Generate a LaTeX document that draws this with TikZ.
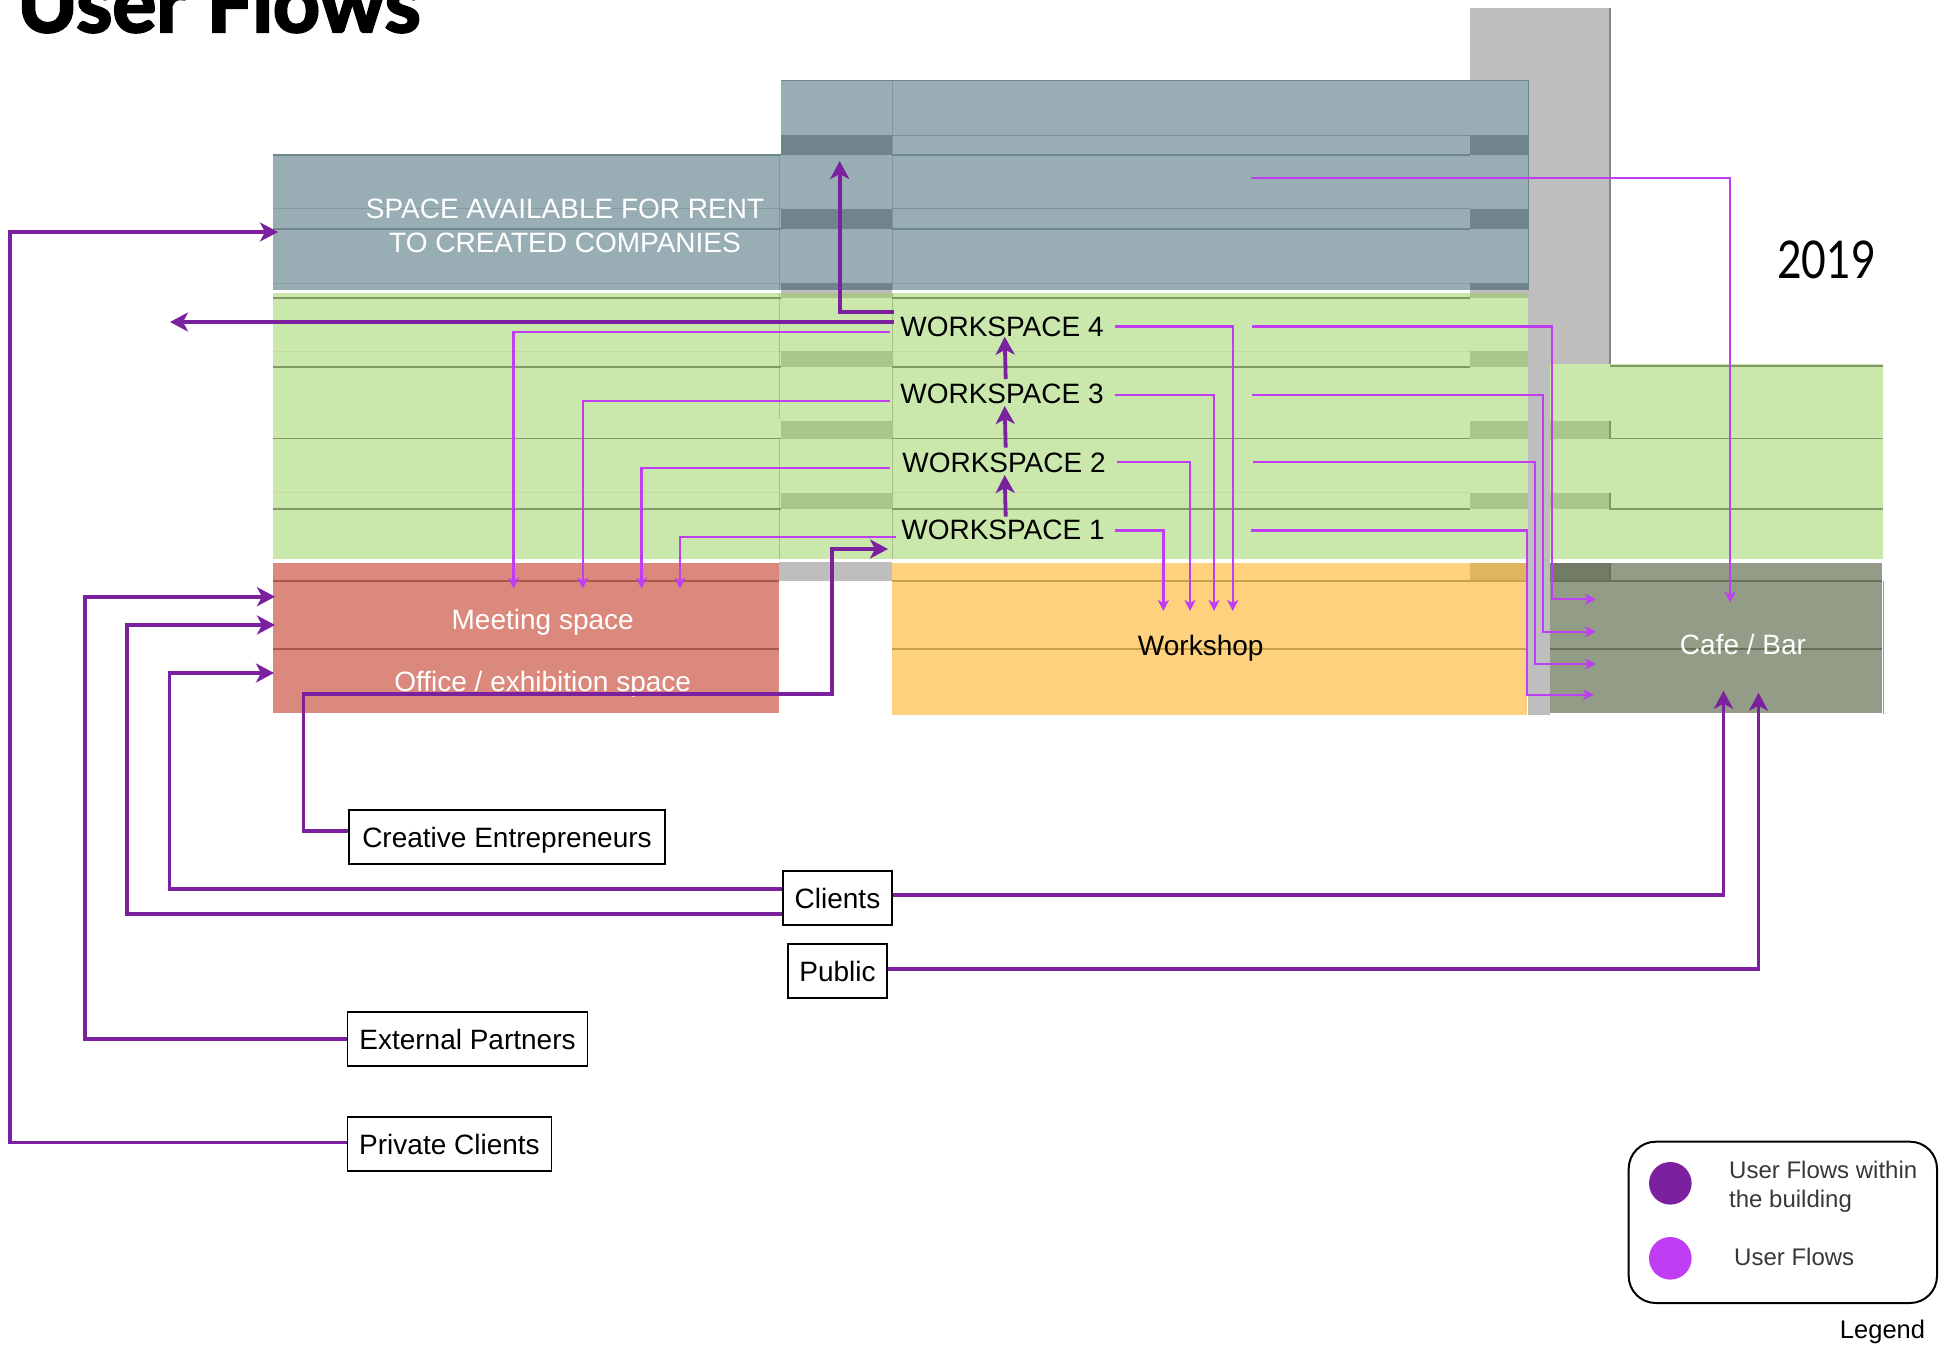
\documentclass[tikz,border=0pt]{standalone}
\usepackage{fontspec}
\usepackage{graphicx}
\setmainfont{Liberation Sans}
\newfontfamily\titlefont[UprightFont=* Bold,FakeBold=3]{Lato}
\newfontfamily\yearfont{Lato}
\usetikzlibrary{arrows.meta,calc}
\definecolor{blueF}{HTML}{98AEB4}\definecolor{blueD}{HTML}{70858B}\definecolor{blueL}{HTML}{6F868D}
\definecolor{greenF}{HTML}{CBE8AC}\definecolor{greenD}{HTML}{ABC68D}\definecolor{greenL}{HTML}{7F9A66}
\definecolor{redF}{HTML}{DB897D}\definecolor{redL}{HTML}{A85A4E}
\definecolor{orF}{HTML}{FED17E}\definecolor{orD}{HTML}{DFB55F}\definecolor{orL}{HTML}{C9A04E}
\definecolor{greyF}{HTML}{BEBEBE}
\definecolor{olF}{HTML}{929C86}\definecolor{olD}{HTML}{717B65}\definecolor{olL}{HTML}{687259}
\definecolor{darkflow}{HTML}{7B209F}\definecolor{lightflow}{HTML}{BF3DF2}
\tikzset{
 x=1pt,y=-1pt,
 fl/.style={line width=1.2pt,draw=#1},
 faint/.style={line width=1pt,draw=#1},
 darkarrow/.style={draw=darkflow,line width=3.8pt,-{Stealth[length=18pt,width=19pt,inset=5pt]}},
 lightarrow/.style={draw=lightflow,line width=2.2pt,-{Stealth[length=11pt,width=11pt,inset=3pt]}},
 labelbox/.style={draw=black,line width=1.8pt,fill=white,font=\fontsize{28}{30}\selectfont,inner sep=0pt,anchor=center,text height=20pt,text depth=0pt},
 lab/.style={font=\fontsize{28}{34}\selectfont,inner sep=0pt,align=center},
 leg/.style={font=\fontsize{24}{28}\selectfont,inner sep=0pt,text=black!78,anchor=west},
}
\begin{document}
\begin{tikzpicture}
\clip (0,0) rectangle (1939,1346);
% building masses
\fill[greyF] (1470,8) rectangle (1610,364);
\fill[greyF] (1528,300) rectangle (1550,715);
\fill[blueF] (273,155) rectangle (781,290);
\fill[blueF] (781,81) rectangle (1528,290);
\fill[greenF] (273,293) rectangle (1528,559);
\fill[greenF] (1550,364) rectangle (1883,559);
\fill[redF] (273,563) rectangle (779,712.7);
\fill[orF] (892,563) rectangle (1527,714.7);
\fill[olF] (1550,563) rectangle (1882,712.7);
\fill[greyF] (779,562) rectangle (892,581);
\fill[greyF] (781,290) rectangle (892,293);
% floor bands
\foreach \a/\b in {135/155,208.6/229,283/290}{
  \fill[blueD] (781,\a) rectangle (892,\b);
  \fill[blueD] (1470,\a) rectangle (1528,\b);}
\foreach \a/\b in {293/298,351/367,421/438.6,492.5/509}{
  \fill[greenD] (781,\a) rectangle (892,\b);
  \fill[greenD] (1470,\a) rectangle (1528,\b);}
\foreach \a/\b in {421/438.6,492.5/509}{\fill[greenD] (1550,\a) rectangle (1610,\b);}
\fill[orD] (1470,563) rectangle (1527,581);
\fill[olD] (1550,563) rectangle (1610,581);
% floor lines
\foreach \y in {135,208.6}{\draw[faint=blueF!82!black] (892,\y) -- (1470,\y);}
\foreach \y in {155,229}{\draw[fl=blueL] (892,\y) -- (1470,\y);\draw[fl=blueL] (273,\y) -- (781,\y);}
\draw[faint=blueF!88!black] (273,208.6) -- (781,208.6);
\draw[faint=blueF!92!black] (273,283) -- (781,283) (892,283) -- (1470,283);
\draw[faint=blueL] (781,81) -- (1528,81) -- (1528,290);
\draw[faint=blueL,opacity=.6] (779,155) -- (779,290) (892,81) -- (892,290);
\foreach \y in {298,367,438.6,509}{\draw[fl=greenL] (273,\y) -- (781,\y);\draw[fl=greenL] (892,\y) -- (1470,\y);}
\foreach \y in {351,492.5}{\draw[faint=greenF!95!black] (273,\y) -- (781,\y);\draw[faint=greenF!95!black] (892,\y) -- (1470,\y);}
\draw[faint=greenL,opacity=.5] (779,293) -- (779,419) (779,438) -- (779,559) (892,293) -- (892,559);
\draw[fl=greenL] (1610,366) -- (1883,366) (1610,421) -- (1610,438.6) -- (1883,438.6) (1610,492.5) -- (1610,509) -- (1883,509);
\draw[fl=greyF!70!black] (1610,8) -- (1610,364);
\foreach \y in {581,649}{\draw[fl=redL] (273,\y) -- (779,\y);\draw[fl=orL] (892,\y) -- (1527,\y);\draw[fl=olL] (1550,\y) -- (1882,\y);}
\draw[fl=olL] (1610,563) -- (1610,581);
\draw[faint=black!40] (1883,581) -- (1883,714);
% area labels
\node[lab,text=white] (rent) at (565,226) {SPACE AVAILABLE FOR RENT\\TO CREATED COMPANIES};
\node[lab,text=white] (meeting) at (542.7,622.5) {Meeting space};
\node[lab,text=white] (office) at (542.7,684.5) {Office / exhibition space};
\node[lab] (workshop) at (1200.7,648) {Workshop};
\node[lab,text=white] (cafe) at (1743,644.5) {Cafe / Bar};
\node[lab] (ws4) at (1002,326.5) {WORKSPACE 4};
\node[lab] (ws3) at (1002,393.5) {WORKSPACE 3};
\node[lab] (ws2) at (1004,462.5) {WORKSPACE 2};
\node[lab] (ws1) at (1003,529.5) {WORKSPACE 1};
% title and year
\node[inner sep=0pt,anchor=base west,font=\fontsize{82}{82}\titlefont] (title) at (17,32) {User Flows};
\node[inner sep=0pt,font=\fontsize{52}{52}\yearfont] (year) at (1826.5,260) {\scalebox{.82}[1]{2019}};
% actor boxes
\node[labelbox,minimum width=316pt,minimum height=54pt] (creative) at (507,837) {Creative Entrepreneurs};
\node[labelbox,minimum width=109pt,minimum height=54pt] (clients) at (837.5,898) {Clients};
\node[labelbox,minimum width=99pt,minimum height=54pt] (public) at (837.5,971) {Public};
\node[labelbox,minimum width=240pt,minimum height=54pt] (external) at (467.5,1039) {External Partners};
\node[labelbox,minimum width=204pt,minimum height=54pt] (private) at (449.5,1144) {Private Clients};
% named ends
\coordinate (rentIn) at (278,232);
\coordinate (meetA) at (275,596.7);
\coordinate (meetB) at (275,625);
\coordinate (meetC) at (274,673);
\coordinate (cafeA) at (1723.5,690.7);
\coordinate (cafeB) at (1758.5,692.7);
\coordinate (wsIn) at (888,549);
\coordinate (upperTip) at (839.7,161);
\coordinate (exitTip) at (170,322);
\coordinate (w4up) at (894,312);
\coordinate (w4out) at (894,322);
% dark flows
\draw[darkarrow] (private.west |- 0,1142.5) -- (10,1142.5) -- (10,232) -- (rentIn);
\draw[darkarrow] (external.west) -- (85,1039) -- (85,596.7) -- (meetA);
\draw[darkarrow] (clients.west |- 0,914) -- (127,914) -- (127,625) -- (meetB);
\draw[darkarrow] (clients.west |- 0,889) -- (169.5,889) -- (169.5,673) -- (meetC);
\draw[darkarrow] (clients.east |- 0,895) -| (cafeA);
\draw[darkarrow] (public.east |- 0,969) -| (cafeB);
\draw[darkarrow] (creative.west |- 0,831) -- (303.5,831) -- (303.5,694) -- (832,694) -- (832,549) -- (wsIn);
\draw[darkarrow] (w4out) -- (exitTip);
\draw[darkarrow] (w4up) -| (upperTip);
\draw[darkarrow] (1005.7,516.7) -- (1004.7,475);
\draw[darkarrow] (1005.7,447.7) -- (1004.7,406);
\draw[darkarrow] (1005.7,379) -- (1004.7,336.7);
% light flows to meeting space
\coordinate (l4) at (890,332.3);\coordinate (l3) at (890,401);\coordinate (l2) at (890,468);\coordinate (l1) at (896,536.7);
\coordinate (m4) at (513.5,588.6);\coordinate (m3) at (582.7,588.6);\coordinate (m2) at (641.5,588.6);\coordinate (m1) at (680,588.6);
\foreach \k in {1,2,3,4}{\draw[lightarrow] (l\k) -| (m\k);}
% light flows to workshop
\coordinate (r4) at (1115,326.4);\coordinate (r3) at (1115,395);\coordinate (r2) at (1117,462);\coordinate (r1) at (1115,530.4);
\coordinate (s4) at (1232.7,611);\coordinate (s3) at (1214,611);\coordinate (s2) at (1190,611);\coordinate (s1) at (1163.4,611);
\foreach \k in {1,2,3,4}{\draw[lightarrow] (r\k) -| (s\k);}
% light flows to cafe
\coordinate (c4) at (1252.4,326.4);\coordinate (c3) at (1252,395);\coordinate (c2) at (1253,462);\coordinate (c1) at (1250.6,530.4);
\coordinate (t4) at (1596,599.3);\coordinate (t3) at (1596,631.7);\coordinate (t2) at (1596,664);\coordinate (t1) at (1594,694.7);
\draw[lightarrow] (c4) -| (1552,599.3) -- (t4);
\draw[lightarrow] (c3) -| (1543,631.7) -- (t3);
\draw[lightarrow] (c2) -| (1535,664) -- (t2);
\draw[lightarrow] (c1) -| (1527,694.7) -- (t1);
\coordinate (topStart) at (1250.6,178.3);\coordinate (topTip) at (1730,602.7);
\draw[lightarrow] (topStart) -| (topTip);
% legend
\draw[black,line width=2pt,rounded corners=27pt] (1628.7,1141.7) rectangle (1937,1303);
\fill[darkflow] (1670.3,1183.3) circle (21.3);
\fill[lightflow] (1670.3,1258.3) circle (21.3);
\node[leg] (lega) at (1729,1169.5) {User Flows within};
\node[leg] (legb) at (1729,1201) {the building};
\node[leg] (legc) at (1734,1257) {User Flows};
\node[inner sep=0pt,font=\fontsize{25.5}{28}\selectfont] (legd) at (1882.5,1331.5) {Legend};
\end{tikzpicture}
\end{document}
